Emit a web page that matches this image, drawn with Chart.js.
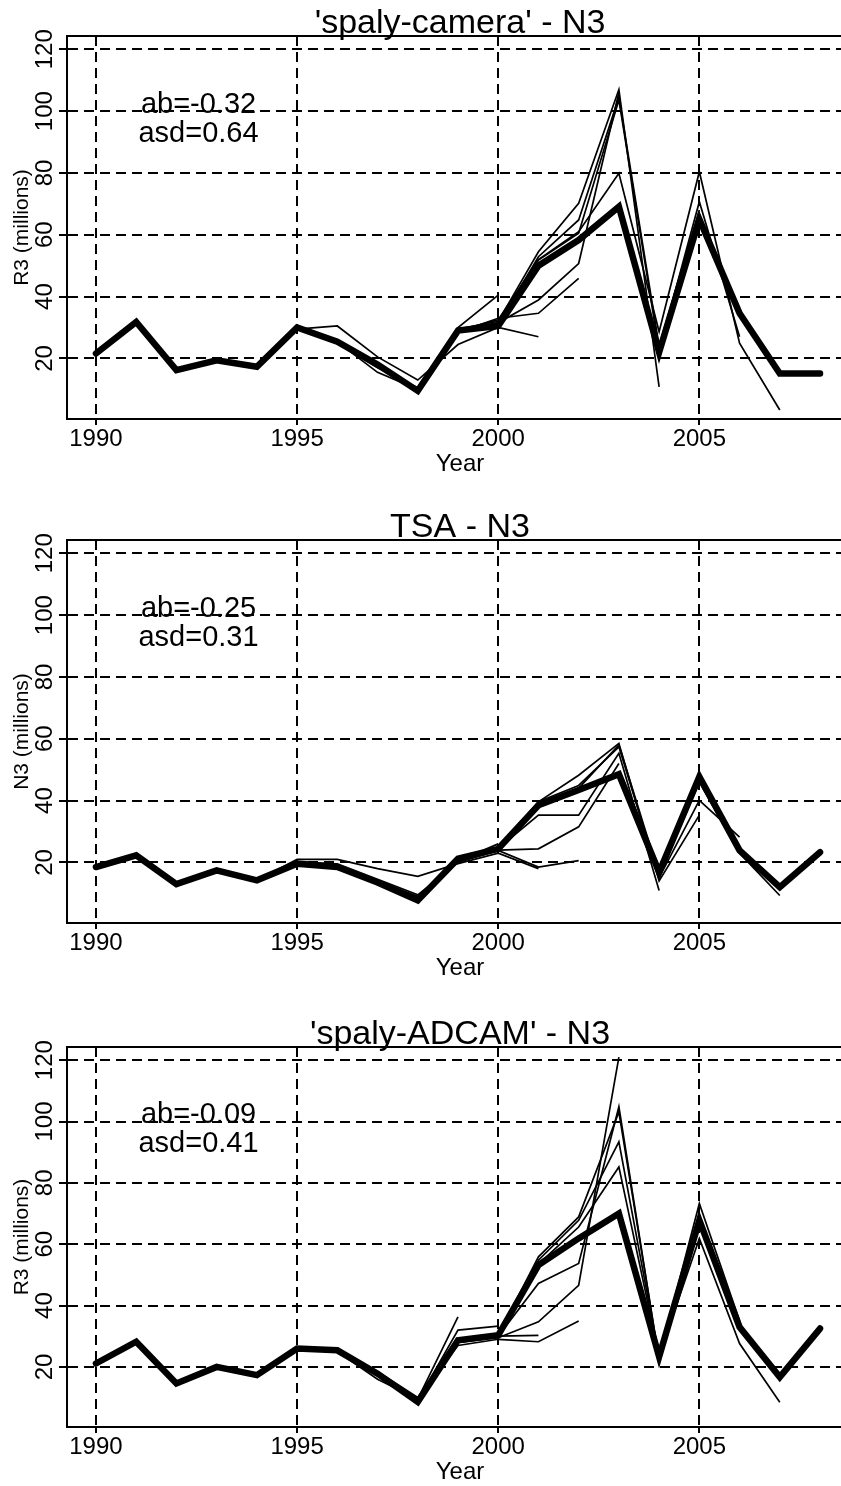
<!DOCTYPE html>
<html>
<head>
<meta charset="utf-8">
<script src="https://cdn.jsdelivr.net/npm/chart.js@4.4.1/dist/chart.umd.min.js"></script>
<style>
  html, body { margin: 0; padding: 0; background: #fff; overflow: hidden; }
  body { width: 841px; height: 1486px; position: relative; }
  .panel { position: absolute; left: 0; }
</style>
</head>
<body>
<div class="panel" style="top:0px"><canvas id="chartCamera" width="853" height="480"></canvas></div>
<div class="panel" style="top:504px"><canvas id="chartTsa" width="853" height="480"></canvas></div>
<div class="panel" style="top:1011px"><canvas id="chartAdcam" width="853" height="477"></canvas></div>
<script>
const years = [1990, 1991, 1992, 1993, 1994, 1995, 1996, 1997, 1998, 1999,
               2000, 2001, 2002, 2003, 2004, 2005, 2006, 2007, 2008];
const xTicks = [1990, 1995, 2000, 2005];
const yTicks = [20, 40, 60, 80, 100, 120];

// 'spaly-camera' - final run (thick) and retrospective peels (thin)
const cameraFinal = [21.6, 31.8, 16.2, 19.4, 17.3, 30.0, 25.4, 18.0, 9.5, 29.0, 30.5, 50.0, 58.3, 69.1, 22.0, 65.0, 34.6, 15.1, 15.1];
const cameraPeels = [
    [21.6, 31.8, 16.2, 19.4, 17.3, 29.5, 25.0, 17.0, 10.5, 30.0, 40.5],
    [21.6, 31.8, 16.2, 19.4, 17.3, 29.5, 30.5, 20.5, 13.0, 24.5, 30.0, 27.0],
    [21.6, 31.8, 16.2, 19.4, 17.3, 30.0, 25.4, 17.5, 10.0, 28.5, 33.0, 34.6, 45.9],
    [21.6, 31.8, 16.2, 19.4, 17.3, 30.0, 25.4, 15.5, 10.0, 29.0, 31.5, 38.9, 50.7, 106.0],
    [21.6, 31.8, 16.2, 19.4, 17.3, 30.0, 25.4, 17.5, 9.5, 29.5, 32.0, 54.5, 70.2, 107.0, 10.8],
    [21.6, 31.8, 16.2, 19.4, 17.3, 30.0, 25.4, 18.0, 9.5, 29.0, 31.0, 52.9, 64.8, 104.5, 24.0, 68.0],
    [21.6, 31.8, 16.2, 19.4, 17.3, 30.0, 25.4, 18.0, 9.5, 29.0, 31.5, 51.8, 60.5, 103.6, 22.5, 70.7, 27.0],
    [21.6, 31.8, 16.2, 19.4, 17.3, 30.0, 25.4, 18.0, 9.5, 29.0, 32.5, 52.0, 61.0, 79.9, 28.6, 80.4, 24.9, 3.3]
];
const cameraStats = ['ab=-0.32', 'asd=0.64'];

// TSA
const tsaFinal = [18.5, 22.3, 13.0, 17.4, 14.2, 19.6, 18.5, 13.5, 7.7, 21.2, 24.4, 38.5, 43.4, 48.5, 16.8, 47.7, 23.9, 12.0, 23.3];
const tsaPeels = [
    [18.5, 22.3, 13.0, 17.4, 14.2, 20.0, 19.0, 14.0, 9.0, 20.5, 26.0],
    [18.5, 22.3, 13.0, 17.4, 14.2, 21.0, 21.0, 18.0, 15.5, 19.6, 23.0, 18.0],
    [18.5, 22.3, 13.0, 17.4, 14.2, 20.0, 19.5, 14.5, 9.5, 20.0, 23.9, 18.5, 20.6],
    [18.5, 22.3, 13.0, 17.4, 14.2, 19.6, 18.5, 13.5, 8.5, 20.5, 24.0, 24.4, 31.5, 52.0],
    [18.5, 22.3, 13.0, 17.4, 14.2, 19.6, 18.5, 13.5, 8.0, 21.0, 24.5, 35.3, 35.3, 55.3, 10.9],
    [18.5, 22.3, 13.0, 17.4, 14.2, 19.6, 18.5, 13.5, 8.0, 21.0, 24.5, 39.6, 48.2, 58.5, 14.0, 35.3],
    [18.5, 22.3, 13.0, 17.4, 14.2, 19.6, 18.5, 13.5, 7.7, 21.0, 24.5, 39.6, 44.9, 57.4, 15.0, 40.1, 28.2],
    [18.5, 22.3, 13.0, 17.4, 14.2, 19.6, 18.5, 13.5, 7.7, 21.2, 24.4, 38.5, 44.0, 58.0, 16.0, 46.0, 23.0, 9.3]
];
const tsaStats = ['ab=-0.25', 'asd=0.31'];

// 'spaly-ADCAM'
const adcamFinal = [21.1, 28.2, 14.6, 20.0, 17.3, 26.0, 25.4, 17.8, 8.6, 28.7, 30.3, 53.2, 61.9, 70.0, 23.3, 67.8, 33.0, 16.7, 32.5];
const adcamPeels = [
    [21.1, 28.2, 14.6, 20.0, 17.3, 26.0, 25.0, 16.0, 9.5, 36.3],
    [21.1, 28.2, 14.6, 20.0, 17.3, 26.0, 25.4, 17.0, 9.0, 32.0, 33.3],
    [21.1, 28.2, 14.6, 20.0, 17.3, 26.0, 25.4, 18.5, 10.0, 28.0, 30.0, 30.3],
    [21.1, 28.2, 14.6, 20.0, 17.3, 26.0, 25.4, 18.0, 9.5, 27.0, 29.0, 28.2, 35.0],
    [21.1, 28.2, 14.6, 20.0, 17.3, 26.0, 25.4, 17.8, 8.6, 28.0, 29.5, 34.7, 46.6, 121.0],
    [21.1, 28.2, 14.6, 20.0, 17.3, 26.0, 25.4, 17.8, 8.6, 28.5, 30.0, 47.2, 53.7, 104.8, 22.0],
    [21.1, 28.2, 14.6, 20.0, 17.3, 26.0, 25.4, 17.8, 8.6, 28.7, 30.3, 55.9, 68.9, 103.1, 22.5, 70.0],
    [21.1, 28.2, 14.6, 20.0, 17.3, 26.0, 25.4, 17.8, 8.6, 28.7, 30.3, 54.8, 67.8, 93.4, 23.0, 73.3, 35.0],
    [21.1, 28.2, 14.6, 20.0, 17.3, 26.0, 25.4, 17.8, 8.6, 28.7, 30.3, 53.5, 65.6, 85.2, 23.5, 61.9, 27.6, 8.5]
];
const adcamStats = ['ab=-0.09', 'asd=0.41'];

const FONT = '"Liberation Sans", Arial, sans-serif';
Chart.defaults.font.family = FONT;
Chart.defaults.color = '#000';

const toPoints = values => values.map((v, i) => ({ x: years[i], y: v }));

function buildDatasets(finalValues, peels) {
    const thin = peels.map(p => ({
        data: toPoints(p),
        borderColor: '#000',
        borderWidth: 1.7,
        borderJoinStyle: 'miter',
        pointRadius: 0,
        tension: 0
    }));
    thin.push({
        data: toPoints(finalValues),
        borderColor: '#000',
        borderWidth: 6.5,
        borderJoinStyle: 'miter',
        borderCapStyle: 'round',
        pointRadius: 0,
        tension: 0
    });
    return thin;
}

// top edge of the box
const frameTop = {
    id: 'frameTop',
    beforeDatasetsDraw(chart) {
        const { ctx, chartArea: a } = chart;
        ctx.save();
        ctx.strokeStyle = '#000';
        ctx.lineWidth = 2;
        ctx.beginPath();
        ctx.moveTo(a.left - 1, a.top);
        ctx.lineTo(a.right, a.top);
        ctx.stroke();
        ctx.restore();
    }
};

// "ab= / asd=" text inside the plot
const statsText = {
    id: 'statsText',
    afterDatasetsDraw(chart, args, opts) {
        const { ctx, scales: { x, y } } = chart;
        ctx.save();
        ctx.font = '29px ' + FONT;
        ctx.fillStyle = '#000';
        ctx.textAlign = 'center';
        ctx.textBaseline = 'alphabetic';
        opts.lines.forEach((t, i) => {
            ctx.fillText(t, x.getPixelForValue(1992.55), y.getPixelForValue(i === 0 ? 99.5 : 90));
        });
        ctx.restore();
    }
};

function makeChart(id, title, yLabel, finalValues, peels, stats) {
    new Chart(document.getElementById(id), {
        type: 'line',
        data: { datasets: buildDatasets(finalValues, peels) },
        options: {
            responsive: false,
            animation: false,
            events: [],
            layout: { padding: 0 },
            plugins: {
                legend: { display: false },
                tooltip: { enabled: false },
                title: {
                    display: true,
                    text: title,
                    fullSize: false,
                    color: '#000',
                    font: { size: 34, weight: 'normal', lineHeight: 1 },
                    padding: { top: 7, bottom: -5 }
                },
                statsText: { lines: stats }
            },
            scales: {
                x: {
                    type: 'linear',
                    min: 1989.28,
                    max: 2008.82,
                    afterBuildTicks: s => { s.ticks = xTicks.map(v => ({ value: v })); },
                    afterFit: s => { s.height = 61; },
                    grid: { color: '#000', lineWidth: 2, tickLength: 6, tickWidth: 2, tickColor: '#000', tickBorderDash: [] },
                    border: { display: true, color: '#000', width: 2, dash: [10, 6] },
                    ticks: { color: '#000', font: { size: 24 }, padding: 0, maxRotation: 0, autoSkip: false, callback: v => String(v) },
                    title: { display: true, text: 'Year', color: '#000', font: { size: 24 }, padding: { top: 0, bottom: 1 } }
                },
                y: {
                    min: 0.4,
                    max: 124.3,
                    afterBuildTicks: s => { s.ticks = yTicks.map(v => ({ value: v })); },
                    afterFit: s => { s.width = 67; },
                    grid: { color: '#000', lineWidth: 2, tickLength: 8, tickWidth: 2, tickColor: '#000', tickBorderDash: [] },
                    border: { display: true, color: '#000', width: 2, dash: [10, 6] },
                    ticks: { color: '#000', font: { size: 24 }, minRotation: 90, maxRotation: 90, crossAlign: 'center', padding: -6, autoSkip: false, callback: v => String(v) },
                    title: { display: true, text: yLabel, color: '#000', font: { size: 21 }, padding: { top: 10, bottom: 0 } }
                }
            }
        },
        plugins: [frameTop, statsText]
    });
}

makeChart('chartCamera', "'spaly-camera' - N3", 'R3 (millions)', cameraFinal, cameraPeels, cameraStats);
makeChart('chartTsa', 'TSA - N3', 'N3 (millions)', tsaFinal, tsaPeels, tsaStats);
makeChart('chartAdcam', "'spaly-ADCAM' - N3", 'R3 (millions)', adcamFinal, adcamPeels, adcamStats);
</script>
</body>
</html>
